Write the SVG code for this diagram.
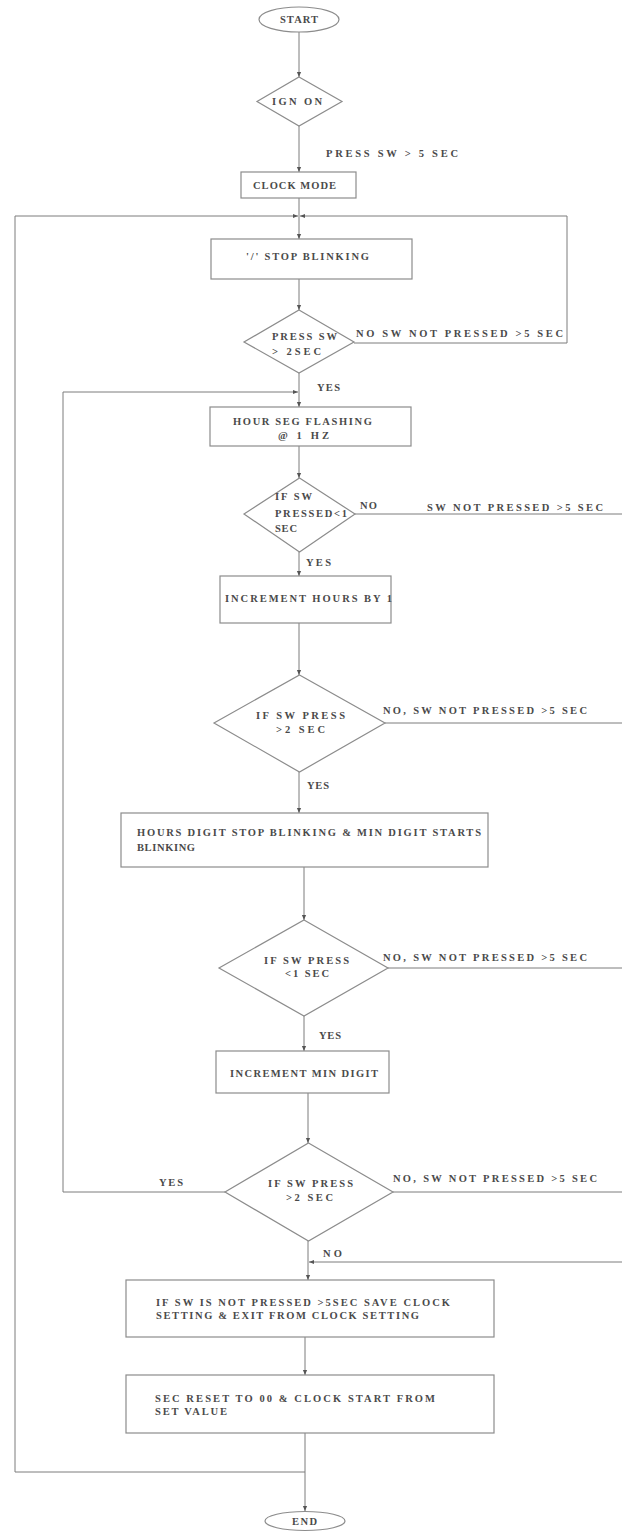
<svg xmlns="http://www.w3.org/2000/svg" width="622" height="1533" viewBox="0 0 622 1533">
<style>
.bx{fill:none;stroke:#8c8c8c;stroke-width:1.2}
.ln{fill:none;stroke:#7c7c7c;stroke-width:1}
.t{font-family:"Liberation Serif","Times New Roman",serif;font-size:10.5px;font-weight:bold;fill:#4a4a4a}
.c{text-anchor:middle}
</style>
<defs>
<marker id="ah" markerWidth="6" markerHeight="6" refX="5" refY="3" orient="auto" markerUnits="userSpaceOnUse">
<path d="M0,0.9 L5,3 L0,5.1z" fill="#555"/>
</marker>
</defs>
<rect width="622" height="1533" fill="#fff"/>

<g id="connectors">
<path class="ln" d="M299,32 V77" marker-end="url(#ah)"/>
<path class="ln" d="M299,126 V172" marker-end="url(#ah)"/>
<path class="ln" d="M299,198 V239" marker-end="url(#ah)"/>
<path class="ln" d="M305,1472 H15 V216 H298" marker-end="url(#ah)"/>
<path class="ln" d="M354,343 H567 V216 H300" marker-end="url(#ah)"/>
<path class="ln" d="M299,279 V310" marker-end="url(#ah)"/>
<path class="ln" d="M299,373 V407" marker-end="url(#ah)"/>
<path class="ln" d="M225,1192 H63 V392 H298" marker-end="url(#ah)"/>
<path class="ln" d="M299,446 V478" marker-end="url(#ah)"/>
<path class="ln" d="M299,552 V576" marker-end="url(#ah)"/>
<path class="ln" d="M355,514 H623 V1262 H309" marker-end="url(#ah)"/>
<path class="ln" d="M385,723 H623"/>
<path class="ln" d="M388,968 H623"/>
<path class="ln" d="M393,1192 H623"/>
<path class="ln" d="M299,623 V675" marker-end="url(#ah)"/>
<path class="ln" d="M299,772 V813" marker-end="url(#ah)"/>
<path class="ln" d="M304,867 V920" marker-end="url(#ah)"/>
<path class="ln" d="M304,1016 V1051" marker-end="url(#ah)"/>
<path class="ln" d="M308,1093 V1143" marker-end="url(#ah)"/>
<path class="ln" d="M308,1241 V1280" marker-end="url(#ah)"/>
<path class="ln" d="M305,1337 V1375" marker-end="url(#ah)"/>
<path class="ln" d="M305,1433 V1511" marker-end="url(#ah)"/>
</g>

<g id="labels">
<text class="t" x="326" y="157" textLength="132">PRESS SW &gt; 5 SEC</text>
<text class="t" x="356" y="337" textLength="207">NO  SW NOT PRESSED &gt;5 SEC</text>
<text class="t" x="317" y="391" textLength="23">YES</text>
<text class="t" x="360" y="508.5" textLength="17">NO</text>
<text class="t" x="427" y="510.5" textLength="176">SW NOT PRESSED &gt;5 SEC</text>
<text class="t" x="306" y="565.5" textLength="25">YES</text>
<text class="t" x="383" y="713.5" textLength="204">NO, SW NOT PRESSED &gt;5 SEC</text>
<text class="t" x="307" y="788.5" textLength="22">YES</text>
<text class="t" x="383" y="960.5" textLength="204">NO, SW NOT PRESSED &gt;5 SEC</text>
<text class="t" x="319" y="1038.5" textLength="22">YES</text>
<text class="t" x="159" y="1185.5" textLength="24">YES</text>
<text class="t" x="393" y="1181.5" textLength="204">NO, SW NOT PRESSED &gt;5 SEC</text>
<text class="t" x="323" y="1256.5" textLength="19">NO</text>
</g>

<g id="start">
<ellipse class="bx" cx="299" cy="19.5" rx="40" ry="12.5"/>
<text class="t" x="280" y="23" textLength="38">START</text>
</g>

<g id="ign-on">
<polygon class="bx" points="299,77 342,101.5 299,126 257,101.5"/>
<text class="t" x="272" y="105" textLength="50">IGN ON</text>
</g>

<g id="clock-mode">
<rect class="bx" x="241" y="172" width="115" height="26"/>
<text class="t" x="253" y="189" textLength="83">CLOCK MODE</text>
</g>

<g id="stop-blinking">
<rect class="bx" x="211" y="239" width="201" height="40"/>
<text class="t" x="246" y="259.5" textLength="123">'/' STOP BLINKING</text>
</g>

<g id="press-sw-2sec">
<polygon class="bx" points="299,310 354,342 299,373 244,342"/>
<text class="t" x="272" y="340" textLength="65">PRESS SW</text>
<text class="t" x="272" y="355" textLength="49">&gt; 2SEC</text>
</g>

<g id="hour-seg-flashing">
<rect class="bx" x="210" y="407" width="201" height="39"/>
<text class="t" x="233" y="424.5" textLength="139">HOUR SEG FLASHING</text>
<text class="t" x="278" y="438.5" textLength="51">@ 1 HZ</text>
</g>

<g id="if-sw-pressed-1sec">
<polygon class="bx" points="299.5,478 355,514 299.5,552 244,514"/>
<text class="t" x="275" y="500" textLength="37">IF SW</text>
<text class="t" x="275" y="516.5" textLength="72">PRESSED&lt;1</text>
<text class="t" x="275" y="531.5" textLength="22">SEC</text>
</g>

<g id="increment-hours">
<rect class="bx" x="220" y="576" width="171" height="47"/>
<text class="t" x="225" y="601.5" textLength="167">INCREMENT HOURS BY 1</text>
</g>

<g id="if-sw-press-2sec-a">
<polygon class="bx" points="299.5,675 385,723 299.5,772 214,723"/>
<text class="t" x="256" y="718.5" textLength="89">IF SW PRESS</text>
<text class="t" x="276" y="732.5" textLength="49">&gt;2 SEC</text>
</g>

<g id="hours-digit-stop">
<rect class="bx" x="121" y="813" width="367" height="54"/>
<text class="t" x="137" y="835.5" textLength="344">HOURS DIGIT STOP BLINKING &amp; MIN DIGIT STARTS</text>
<text class="t" x="137" y="850.5" textLength="58">BLINKING</text>
</g>

<g id="if-sw-press-1sec">
<polygon class="bx" points="304,920 388,968 304,1016 219,968"/>
<text class="t" x="264" y="963.5" textLength="85">IF SW PRESS</text>
<text class="t" x="285" y="976.5" textLength="44">&lt;1 SEC</text>
</g>

<g id="increment-min">
<rect class="bx" x="216" y="1051" width="173" height="42"/>
<text class="t" x="230" y="1076.5" textLength="148">INCREMENT MIN DIGIT</text>
</g>

<g id="if-sw-press-2sec-b">
<polygon class="bx" points="308.5,1143 393,1192 308.5,1241 225,1192"/>
<text class="t" x="268" y="1186.5" textLength="85">IF SW PRESS</text>
<text class="t" x="286" y="1200.5" textLength="47">&gt;2 SEC</text>
</g>

<g id="save-exit">
<rect class="bx" x="126" y="1280" width="368" height="57"/>
<text class="t" x="156" y="1305.5" textLength="294">IF SW IS NOT PRESSED &gt;5SEC SAVE CLOCK</text>
<text class="t" x="156" y="1318.5" textLength="263">SETTING &amp; EXIT FROM CLOCK SETTING</text>
</g>

<g id="sec-reset">
<rect class="bx" x="126" y="1375" width="368" height="58"/>
<text class="t" x="155" y="1401.5" textLength="280">SEC RESET TO 00 &amp; CLOCK START FROM</text>
<text class="t" x="155" y="1414.5" textLength="72">SET VALUE</text>
</g>

<g id="end">
<ellipse class="bx" cx="305" cy="1521" rx="40" ry="9.5"/>
<text class="t" x="292" y="1524.5" textLength="25">END</text>
</g>
</svg>
